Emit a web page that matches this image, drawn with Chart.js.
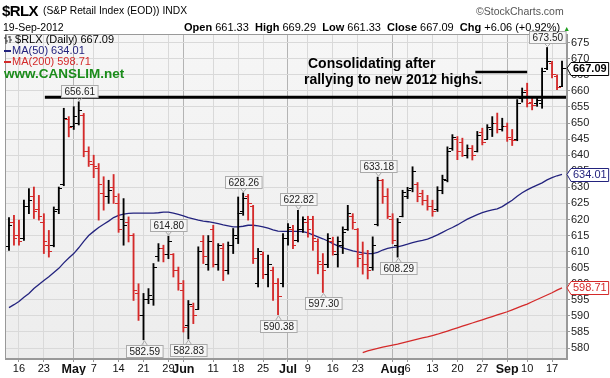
<!DOCTYPE html>
<html lang="en">
<head>
<meta charset="UTF-8">
<title>$RLX Daily</title>
<script src="https://cdn.jsdelivr.net/npm/chart.js"></script>
<style>
    body { margin: 0; background: #fff; font-family: Arial, 'Liberation Sans', sans-serif; }
    .wrap { position: relative; width: 610px; height: 378px; overflow: hidden; }
    #chart { position: absolute; left: 0; top: 0; }
    .t { position: absolute; white-space: nowrap; color: #000; line-height: 1; }
    .dash { display: inline-block; width: 7px; height: 2px; vertical-align: middle; margin-right: 1px; }
</style>
</head>
<body>
<div class="wrap">
    <canvas id="chart" width="610" height="378"></canvas>

    <div class="t" style="left:2px;top:3px;font-size:15px;font-weight:bold;letter-spacing:-0.6px">$RLX</div>
    <div class="t" style="left:43px;top:6px;font-size:10.3px">(S&amp;P Retail Index (EOD)) INDX</div>
    <div class="t" style="left:476px;top:6px;font-size:10.5px;color:#555">&copy;StockCharts.com</div>
    <div class="t" style="left:3px;top:22px;font-size:10.5px">19-Sep-2012</div>
    <div class="t" style="left:184px;top:22px;font-size:11px"><b>Open</b> 661.33 &nbsp;<b>High</b> 669.29 &nbsp;<b>Low</b> 661.33 &nbsp;<b>Close</b> 667.09 &nbsp;<b>Chg</b> +6.06 (+0.92%) <span style="color:#1e9e1e;font-size:7px">&#9650;</span></div>

    <div class="t" style="left:4px;top:34px;font-size:11px"><svg width="8" height="9" style="vertical-align:-1px"><path d="M2 0V9M0 3H2M2 6H4M6 1V8M4 2H6M6 5H8" stroke="#333" stroke-width="1" fill="none"/></svg> $RLX (Daily) 667.09</div>
    <div class="t" style="left:4px;top:45px;font-size:11px;color:#23237e"><span class="dash" style="background:#23237e"></span>MA(50) 634.01</div>
    <div class="t" style="left:4px;top:56px;font-size:11px;color:#d42a2a"><span class="dash" style="background:#d42a2a"></span>MA(200) 598.71</div>
    <div class="t" style="left:4px;top:67px;font-size:13.5px;font-weight:bold;color:#1a8c1a">www.CANSLIM.net</div>

    <div class="t" style="left:308px;top:56px;font-size:14px;font-weight:bold">Consolidating after</div>
    <div class="t" style="left:304px;top:72px;font-size:14px;font-weight:bold">rallying to new 2012 highs.</div>
</div>

<script>
    // Daily OHLC, 12-Apr-2012 .. 19-Sep-2012 (112 sessions)
    const openP = [611.5, 619, 615, 614, 624, 627, 623, 619, 612, 612, 623, 631, 651, 649, 650, 652.5, 641, 637, 636, 628,
        627, 630, 625, 620, 619, 615, 597, 590, 595, 595, 608.5, 611, 609, 609, 604, 598, 587, 593, 592, 613,
        606, 617, 606, 611, 604, 612, 614, 622.5, 627, 624, 600, 609, 603, 604, 600, 600, 614, 617, 613.5, 617,
        619, 620, 613, 606, 606, 613, 609, 612, 617, 621, 617, 609, 606, 605, 618.5, 632, 627, 620, 612, 621,
        627, 629.5, 631, 628, 626, 624, 623, 629, 632, 642, 645, 644, 640, 642, 641, 647, 645, 648, 650, 648,
        649, 645, 645, 657.5, 660, 656.5, 656, 656, 667, 668.5, 664.5, 661.33];
    const highP = [620.6, 621.3, 619.8, 626, 629.6, 630.1, 627.5, 621.8, 616.6, 623.9, 630.1, 654.6, 652, 655.1, 656.61, 653, 642.6, 640, 637.4, 633.3,
        632.2, 634, 628, 626.5, 620.8, 615.6, 600, 597, 598.5, 606.3, 612.5, 612, 614.8, 609.4, 605.2, 601, 594.8, 594, 611.5, 615,
        615, 618.2, 612.5, 612.5, 613, 617.2, 627, 628.26, 627.8, 624.4, 611, 609.9, 608.9, 605.2, 601.6, 615.6, 618.7, 618.2, 622.82, 620.8,
        621, 621, 614, 609.4, 615.6, 614.5, 614.6, 617.7, 624.4, 621.8, 617.2, 613, 610.4, 614.6, 633.18, 632.5, 629.6, 621.8, 620.3, 629.1,
        630, 636.4, 631.5, 629.1, 627.5, 626, 630.2, 633.8, 642.6, 646.4, 645.8, 645.3, 643.2, 643, 647.4, 648.4, 649.5, 652, 653.1, 651.5,
        650, 648, 657.3, 660.9, 662.4, 658.3, 658.3, 667.1, 673.5, 669.2, 665, 669.29];
    const lowP = [610.4, 612, 612, 613.5, 621.8, 620.3, 619.8, 609.4, 608.3, 611.5, 621.8, 630.5, 645.7, 648, 649.4, 639.5, 636.5, 633, 619.8, 622.9,
        625, 625, 616, 612, 613, 594.8, 588.6, 582.59, 593.8, 593.3, 607, 606.8, 607.8, 602.1, 598, 585, 582.83, 587.6, 592, 606.3,
        604.2, 605.2, 604.2, 601, 603, 609.4, 612.5, 621.3, 619.8, 606.3, 599, 601.6, 599, 594.8, 590.38, 599, 612, 610.9, 613, 616,
        614.5, 610.4, 603.1, 597.3, 605, 608.9, 605.2, 609.4, 616.6, 617, 605.2, 603, 601.5, 604.2, 618, 625, 620.3, 612.5, 608.29, 620.8,
        626.5, 628.6, 625.5, 624.5, 622.9, 621, 622.5, 628, 631.7, 641.5, 638.6, 639.6, 639.1, 638.5, 641, 643.2, 645, 645.8, 646.9, 647.5,
        644.3, 643, 644.5, 656.5, 655, 654.1, 655.2, 654.6, 666.6, 664, 660.4, 661.33];
    const closeP = [618, 614, 613, 624, 626, 622.5, 621, 613, 610, 622.5, 629.5, 651.5, 648.5, 652, 654, 641, 638, 636.5, 631, 627,
        629, 627, 617, 618, 615, 598, 590, 595, 596.5, 605, 611, 609, 613, 604, 600, 586.5, 593.5, 590, 610, 608.5,
        613, 606, 612, 604, 612, 615, 622, 626.5, 625, 608, 610, 603, 606, 600, 596, 614, 617.5, 612, 617, 620,
        617, 614, 607, 604, 614, 610, 613, 616, 622, 619, 608, 606, 604, 612, 632, 627, 621, 613.5, 619, 628.5,
        629, 635, 627, 626, 624, 622.5, 629, 632.5, 641, 645.5, 641, 640, 642, 640, 646, 644, 648.5, 650, 648, 649,
        645.5, 644.5, 656, 659.5, 656, 655.5, 657, 666, 669, 665, 661.03, 667.09];

    // Moving averages as drawn on the chart
    const ma50 = [592.6, 593.5, 594.5, 595.8, 597, 598.5, 599.8, 601, 602.2, 603.5, 604.8, 606.5, 608, 609.4, 611.2, 613.2, 615, 616.3, 617.5, 618.5,
        619.5, 620.6, 621.3, 621.7, 621.9, 622, 622, 622, 622, 622, 622.1, 622.3, 622.3, 622, 621.6, 621.1, 620.6, 620.2, 619.8, 619.5,
        619.3, 619, 618.7, 618.3, 618, 617.7, 617.7, 617.9, 618.2, 618.2, 618, 617.7, 617.3, 616.8, 616.4, 616.3, 616.3, 616.3, 616.3, 616.2,
        615.8, 615.2, 614.6, 614, 613.3, 612.5, 611.8, 611.2, 610.7, 610.2, 609.9, 609.6, 609.4, 609.4, 609.8, 610.5, 611, 611.3, 611.5, 611.9,
        612.3, 612.8, 613.2, 613.5, 613.9, 614.5, 615.2, 616, 616.8, 617.5, 618.3, 619.2, 620.1, 620.8, 621.5, 622.1, 622.6, 623, 623.3, 624,
        625, 626, 627.2, 628.3, 629.2, 630, 630.7, 631.4, 632.3, 633, 633.6, 634.01];
    const ma200Start = 71;
    const ma200 = [578.6, 579.1, 579.5, 579.9, 580.3, 580.6, 580.9, 581.2, 581.6, 582, 582.4, 582.8, 583.2, 583.5, 583.9, 584.3, 584.8, 585.3, 585.8, 586.3,
        586.8, 587.3, 587.8, 588.3, 588.8, 589.3, 589.8, 590.3, 590.8, 591.3, 591.9, 592.5, 593.1, 593.7, 594.4, 595.1, 595.8, 596.5, 597.2, 598, 598.71];

    // x-axis tick labels (session index -> text)
    const tickIdx = [2, 7, 13, 17, 22, 27, 32, 35, 41, 46, 51, 56, 60, 65, 70, 77, 80, 85, 90, 95, 100, 104, 109];
    const tickText = ['16', '23', 'May', '7', '14', '21', '29', 'Jun', '11', '18', '25', 'Jul', '9', '16', '23', 'Aug', '6', '13', '20', '27', 'Sep', '10', '17'];
    const monthIdx = [13, 35, 56, 77, 100];
    const yTicks = [580, 585, 590, 595, 600, 605, 610, 615, 620, 625, 630, 635, 640, 645, 650, 655, 660, 665, 670, 675];

    // labelled swing highs / lows (session index)
    const highLabelIdx = [14, 32, 47, 58, 74, 108];
    const lowLabelIdx = [27, 36, 54, 63, 78];

    // hand-drawn annotation lines [x, price]
    const resistLine = [[7.2, 658], [112, 658]];
    const noteLine = [[93.6, 665.9], [104, 665.9]];

    const RED = '#d42a2a';
    const BLACK = '#000000';
    const barColor = closeP.map((c, i) => (i > 0 && c < closeP[i - 1]) ? RED : BLACK);

    function tickImage(color, side) {
        const c = document.createElement('canvas');
        c.width = 7; c.height = 1;
        const g = c.getContext('2d');
        g.fillStyle = color;
        if (side === 'open') g.fillRect(0, 0, 4, 1); else g.fillRect(3, 0, 4, 1);
        return c;
    }
    const imgs = {
        open: { [RED]: tickImage(RED, 'open'), [BLACK]: tickImage(BLACK, 'open') },
        close: { [RED]: tickImage(RED, 'close'), [BLACK]: tickImage(BLACK, 'close') }
    };

    function boxLabel(ctx, text, cx, tipY, above, stroke, color) {
        ctx.font = '10px Arial';
        const w = ctx.measureText(text).width + 6, h = 12;
        const bx = Math.round(cx - w / 2) + 0.5;
        const by = above ? Math.round(tipY - 5 - h) + 0.5 : Math.round(tipY + 5) + 0.5;
        ctx.fillStyle = '#f6f6f6';
        ctx.strokeStyle = stroke;
        ctx.lineWidth = 1;
        ctx.fillRect(bx, by, w, h);
        ctx.strokeRect(bx, by, w, h);
        // little pointer
        ctx.beginPath();
        if (above) {
            ctx.moveTo(cx - 3, by + h); ctx.lineTo(cx, tipY - 1); ctx.lineTo(cx + 3, by + h);
        } else {
            ctx.moveTo(cx - 3, by); ctx.lineTo(cx, tipY + 1); ctx.lineTo(cx + 3, by);
        }
        ctx.stroke();
        ctx.fillStyle = color;
        ctx.textAlign = 'center';
        ctx.textBaseline = 'middle';
        ctx.fillText(text, bx + w / 2, by + h / 2 + 0.5);
    }

    function axisCallout(ctx, text, x, y, color, bold) {
        ctx.font = (bold ? 'bold ' : '') + '11px Arial';
        const w = ctx.measureText(text).width + 4, h = 13;
        const bx = x + 4, by = Math.round(y - h / 2) + 0.5;
        ctx.fillStyle = '#fff';
        ctx.strokeStyle = color;
        ctx.lineWidth = 1;
        ctx.beginPath();
        ctx.moveTo(x, y);
        ctx.lineTo(bx, by);
        ctx.lineTo(bx + w, by);
        ctx.lineTo(bx + w, by + h);
        ctx.lineTo(bx, by + h);
        ctx.closePath();
        ctx.fill();
        ctx.stroke();
        ctx.fillStyle = color;
        ctx.textAlign = 'left';
        ctx.textBaseline = 'middle';
        ctx.fillText(text, bx + 2, y + 0.5);
    }

    const decor = {
        id: 'decor',
        beforeDraw(chart) {
            const { ctx, chartArea: a } = chart;
            ctx.save();
            const g = ctx.createLinearGradient(0, a.top, 0, a.bottom);
            g.addColorStop(0, '#f6f6f6');
            g.addColorStop(1, '#ededed');
            ctx.fillStyle = g;
            ctx.fillRect(a.left, a.top, a.right - a.left, a.bottom - a.top);
            ctx.restore();
        },
        afterDraw(chart) {
            const { ctx, chartArea: a } = chart;
            const xs = chart.scales.x, ys = chart.scales.y;
            ctx.save();
            ctx.strokeStyle = '#999';
            ctx.lineWidth = 1;
            ctx.strokeRect(a.left + 0.5, a.top + 0.5, a.right - a.left - 1, a.bottom - a.top - 1);

            highLabelIdx.forEach(i => {
                boxLabel(ctx, highP[i].toFixed(2), Math.round(xs.getPixelForValue(i)) + 0.5, ys.getPixelForValue(highP[i]), true, '#aaa', '#222');
            });
            lowLabelIdx.forEach(i => {
                boxLabel(ctx, lowP[i].toFixed(2), Math.round(xs.getPixelForValue(i)) + 0.5, ys.getPixelForValue(lowP[i]), false, '#aaa', '#222');
            });

            const last = closeP.length - 1;
            axisCallout(ctx, closeP[last].toFixed(2), a.right, ys.getPixelForValue(closeP[last]), '#000', true);
            axisCallout(ctx, ma50[last].toFixed(2), a.right, ys.getPixelForValue(ma50[last]), '#23237e', false);
            axisCallout(ctx, ma200[ma200.length - 1].toFixed(2), a.right, ys.getPixelForValue(ma200[ma200.length - 1]), RED, false);
            ctx.restore();
        }
    };

    new Chart(document.getElementById('chart'), {
        data: {
            datasets: [
                {
                    type: 'line',
                    data: ma50.map((v, i) => ({ x: i, y: v })),
                    borderColor: '#23237e',
                    borderWidth: 1.3,
                    pointRadius: 0,
                    order: 5
                },
                {
                    type: 'line',
                    data: ma200.map((v, i) => ({ x: ma200Start + i, y: v })),
                    borderColor: RED,
                    borderWidth: 1.3,
                    pointRadius: 0,
                    order: 5
                },
                {
                    type: 'bar',
                    data: highP.map((h, i) => ({ x: i, y: [lowP[i], h] })),
                    backgroundColor: barColor,
                    barThickness: 1.2,
                    grouped: false,
                    order: 3
                },
                {
                    type: 'line',
                    data: openP.map((v, i) => ({ x: i, y: v })),
                    showLine: false,
                    pointRadius: 2,
                    pointStyle: ctx => imgs.open[barColor[ctx.dataIndex]],
                    order: 2
                },
                {
                    type: 'line',
                    data: closeP.map((v, i) => ({ x: i, y: v })),
                    showLine: false,
                    pointRadius: 2,
                    pointStyle: ctx => imgs.close[barColor[ctx.dataIndex]],
                    order: 2
                },
                {
                    type: 'line',
                    data: resistLine.map(p => ({ x: p[0], y: p[1] })),
                    borderColor: '#000',
                    borderWidth: 3,
                    pointRadius: 0,
                    order: 1
                },
                {
                    type: 'line',
                    data: noteLine.map(p => ({ x: p[0], y: p[1] })),
                    borderColor: '#000',
                    borderWidth: 2.5,
                    pointRadius: 0,
                    order: 1
                }
            ]
        },
        options: {
            responsive: false,
            animation: false,
            events: [],
            layout: { padding: { left: 3, top: 34, right: 3, bottom: 3 } },
            plugins: { legend: { display: false }, tooltip: { enabled: false } },
            scales: {
                x: {
                    type: 'linear',
                    min: -0.8,
                    max: 112,
                    offset: false,
                    afterBuildTicks: axis => { axis.ticks = tickIdx.map(v => ({ value: v })); },
                    afterFit: axis => { axis.height = 16; },
                    ticks: {
                        autoSkip: false,
                        maxRotation: 0,
                        padding: 0,
                        color: '#111',
                        font: ctx => ({
                            family: 'Arial',
                            size: monthIdx.includes(ctx.tick && ctx.tick.value) ? 12.5 : 11,
                            weight: monthIdx.includes(ctx.tick && ctx.tick.value) ? 'bold' : 'normal'
                        }),
                        callback: v => tickText[tickIdx.indexOf(v)]
                    },
                    grid: {
                        offset: false,
                        color: ctx => monthIdx.includes(ctx.tick && ctx.tick.value) ? '#b4b4b4' : '#d9d9d9',
                        tickLength: 3,
                        tickColor: '#999'
                    },
                    border: { color: '#999' }
                },
                y: {
                    position: 'right',
                    min: 576.6,
                    max: 677.7,
                    afterBuildTicks: axis => { axis.ticks = yTicks.map(v => ({ value: v })); },
                    afterFit: axis => { axis.width = 40; },
                    ticks: {
                        padding: 1,
                        color: '#222',
                        font: { family: 'Arial', size: 11 }
                    },
                    grid: {
                        color: '#d9d9d9',
                        tickLength: 3,
                        tickColor: '#999'
                    },
                    border: { color: '#999' }
                }
            }
        },
        plugins: [decor]
    });
</script>
</body>
</html>
